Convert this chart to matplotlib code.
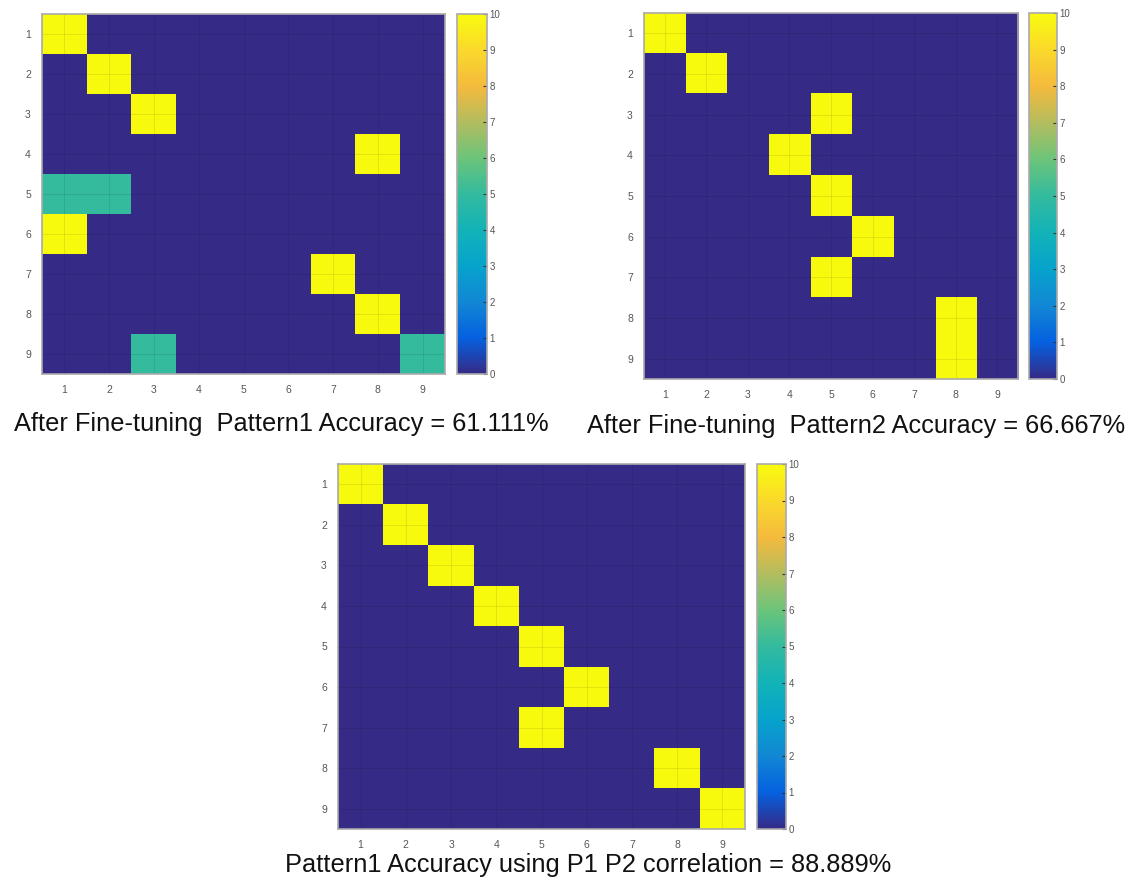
import numpy as np
import matplotlib.pyplot as plt
from matplotlib.colors import LinearSegmentedColormap

plt.rcParams['font.family'] = ['Liberation Sans', 'DejaVu Sans']

classes = [1, 2, 3, 4, 5, 6, 7, 8, 9]
cbar_ticks = [0, 1, 2, 3, 4, 5, 6, 7, 8, 9, 10]

# confusion matrices (rows = true class, cols = predicted class)
cm_p1 = [
    [10, 0, 0, 0, 0, 0, 0, 0, 0],
    [0, 10, 0, 0, 0, 0, 0, 0, 0],
    [0, 0, 10, 0, 0, 0, 0, 0, 0],
    [0, 0, 0, 0, 0, 0, 0, 10, 0],
    [5, 5, 0, 0, 0, 0, 0, 0, 0],
    [10, 0, 0, 0, 0, 0, 0, 0, 0],
    [0, 0, 0, 0, 0, 0, 10, 0, 0],
    [0, 0, 0, 0, 0, 0, 0, 10, 0],
    [0, 0, 5, 0, 0, 0, 0, 0, 5],
]
cm_p2 = [
    [10, 0, 0, 0, 0, 0, 0, 0, 0],
    [0, 10, 0, 0, 0, 0, 0, 0, 0],
    [0, 0, 0, 0, 10, 0, 0, 0, 0],
    [0, 0, 0, 10, 0, 0, 0, 0, 0],
    [0, 0, 0, 0, 10, 0, 0, 0, 0],
    [0, 0, 0, 0, 0, 10, 0, 0, 0],
    [0, 0, 0, 0, 10, 0, 0, 0, 0],
    [0, 0, 0, 0, 0, 0, 0, 10, 0],
    [0, 0, 0, 0, 0, 0, 0, 10, 0],
]
cm_corr = [
    [10, 0, 0, 0, 0, 0, 0, 0, 0],
    [0, 10, 0, 0, 0, 0, 0, 0, 0],
    [0, 0, 10, 0, 0, 0, 0, 0, 0],
    [0, 0, 0, 10, 0, 0, 0, 0, 0],
    [0, 0, 0, 0, 10, 0, 0, 0, 0],
    [0, 0, 0, 0, 0, 10, 0, 0, 0],
    [0, 0, 0, 0, 10, 0, 0, 0, 0],
    [0, 0, 0, 0, 0, 0, 0, 10, 0],
    [0, 0, 0, 0, 0, 0, 0, 0, 10],
]
titles = [
    "After Fine-tuning  Pattern1 Accuracy = 61.111%",
    "After Fine-tuning  Pattern2 Accuracy = 66.667%",
    "Pattern1 Accuracy using P1 P2 correlation = 88.889%",
]

# approximate MATLAB parula
parula = LinearSegmentedColormap.from_list("parula", [
    (0.0, (0.208, 0.166, 0.529)),
    (0.1, (0.020, 0.380, 0.880)),
    (0.2, (0.070, 0.530, 0.830)),
    (0.3, (0.025, 0.640, 0.800)),
    (0.4, (0.070, 0.700, 0.720)),
    (0.5, (0.200, 0.730, 0.620)),
    (0.6, (0.420, 0.770, 0.480)),
    (0.7, (0.700, 0.740, 0.370)),
    (0.8, (0.960, 0.730, 0.240)),
    (0.9, (0.980, 0.850, 0.170)),
    (1.0, (0.976, 0.983, 0.054)),
])

W, H = 1138, 886
fig = plt.figure(figsize=(W / 100, H / 100), dpi=100)


def box(x0, y0, x1, y1):
    return [x0 / W, 1 - y1 / H, (x1 - x0) / W, (y1 - y0) / H]


def draw_cm(data, ax_px, cb_px, title, title_xy):
    ax = fig.add_axes(box(*ax_px))
    cax = fig.add_axes(box(*cb_px))
    im = ax.imshow(np.array(data), cmap=parula, vmin=0, vmax=10,
                   aspect='auto', interpolation='nearest')
    ax.set_xticks(range(9))
    ax.set_yticks(range(9))
    ax.set_xticklabels(classes)
    ax.set_yticklabels(classes)
    ax.tick_params(length=0, labelsize=7.5, labelcolor='#555555', pad=8)
    for v in range(9):
        ax.axvline(v, color='black', alpha=0.1, lw=0.6)
        ax.axhline(v, color='black', alpha=0.1, lw=0.6)
    for s in ax.spines.values():
        s.set_color('#aaaaaa')
        s.set_linewidth(1.2)
    cb = fig.colorbar(im, cax=cax, ticks=cbar_ticks)
    cb.outline.set_edgecolor('#aaaaaa')
    cb.outline.set_linewidth(1.2)
    cax.tick_params(direction='in', length=3, width=0.8, color='#333333',
                    labelsize=7, labelcolor='#555555', pad=2)
    fig.text(title_xy[0] / W, 1 - title_xy[1] / H, title,
             ha='center', va='center', fontsize=18.3, color='#111111')


draw_cm(cm_p1, (42, 14, 445, 374), (457, 14, 487, 374), titles[0], (281, 424))
draw_cm(cm_p2, (644, 13, 1018, 379), (1029, 13, 1057, 379), titles[1], (856, 426))
draw_cm(cm_corr, (338, 464, 745, 829), (757, 464, 786, 829), titles[2], (588, 865))

fig.savefig("out.png", dpi=100)
